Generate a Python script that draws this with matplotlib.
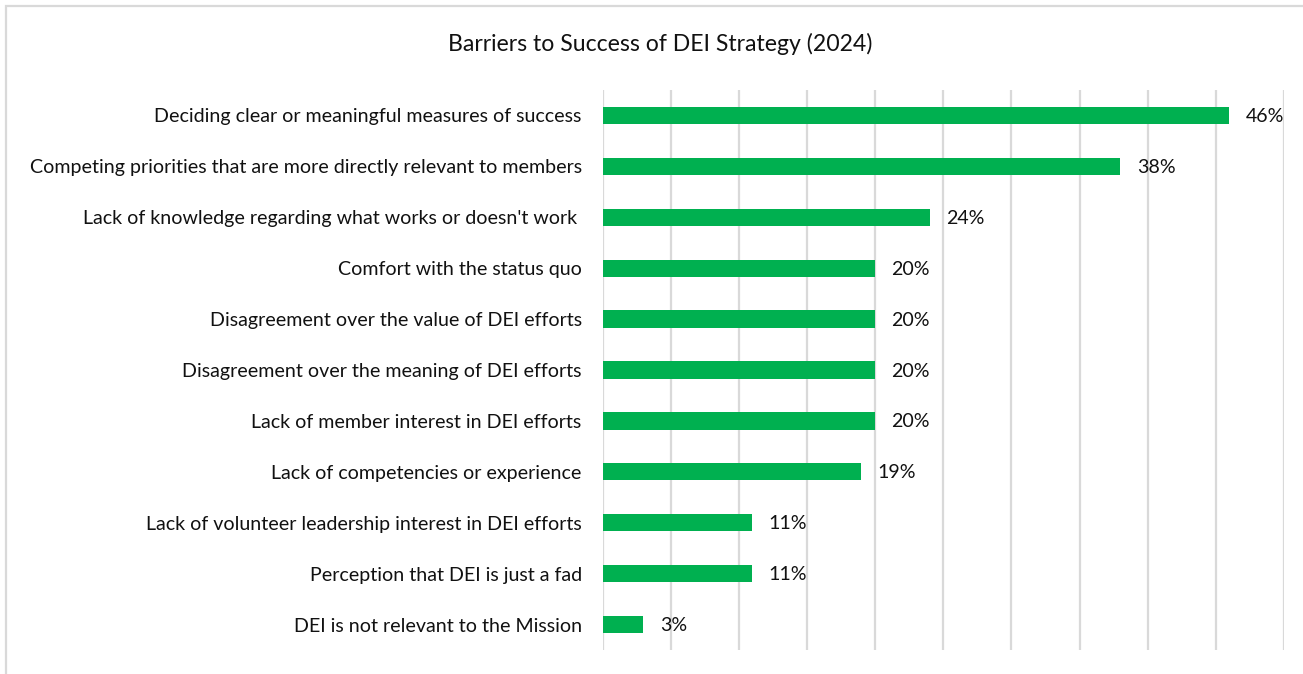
import matplotlib
matplotlib.use("Agg")
from matplotlib import pyplot as plt
from matplotlib.patches import Rectangle

# barrier categories, top to bottom
barriers = [
    "Deciding clear or meaningful measures of success",
    "Competing priorities that are more directly relevant to members",
    "Lack of knowledge regarding what works or doesn't work ",
    "Comfort with the status quo",
    "Disagreement over the value of DEI efforts",
    "Disagreement over the meaning of DEI efforts",
    "Lack of member interest in DEI efforts",
    "Lack of competencies or experience",
    "Lack of volunteer leadership interest in DEI efforts",
    "Perception that DEI is just a fad",
    "DEI is not relevant to the Mission",
]
shares = [46, 38, 24, 20, 20, 20, 20, 19, 11, 11, 3]

plt.rcParams["font.family"] = ["Lato", "DejaVu Sans"]

fig = plt.figure(figsize=(13.03, 6.74), dpi=100)
ax = fig.add_axes([0.4624, 0.0356, 0.5230, 0.8309])

ypos = list(range(len(barriers)))
ax.barh(ypos, shares, height=0.34, color="#00B050", zorder=3)
ax.set_ylim(len(barriers) - 0.5, -0.5)
ax.set_xlim(0, 50)

for y, v in zip(ypos, shares):
    ax.text(v + 1.2, y + 0.02, f"{v}%", va="center", ha="left", fontsize=14.1, color="#111111")

ax.set_yticks(ypos)
ax.set_yticklabels(barriers, fontsize=14.1, color="#111111")
ax.tick_params(axis="y", length=0, pad=15)
ax.set_xticks(range(0, 51, 5))
ax.tick_params(axis="x", length=0, labelbottom=False)
ax.grid(axis="x", color="#d9d9d9", linewidth=1.6, zorder=0)
for side in ax.spines.values():
    side.set_visible(False)

fig.text(0.5065, 0.935, "Barriers to Success of DEI Strategy (2024)", ha="center", va="center",
         fontsize=16.6, color="#111111")

# chart frame (only top and left edges fall inside the image)
fig.patches.append(Rectangle((5.5 / 1303, -0.1), 1.2, (674 - 5.5) / 674 + 0.1,
                             transform=fig.transFigure, fill=False,
                             edgecolor="#d9d9d9", linewidth=1.6))

plt.savefig("out.png", dpi=100)
